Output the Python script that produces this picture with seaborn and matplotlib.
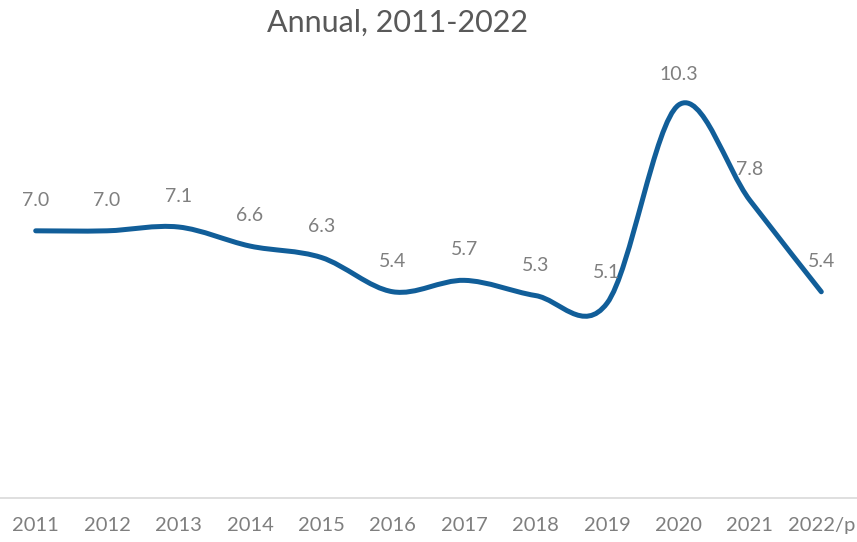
import numpy as np
import pandas as pd
import seaborn as sns
import matplotlib.pyplot as plt
from matplotlib.path import Path
from matplotlib.patches import PathPatch

# data
years = ['2011', '2012', '2013', '2014', '2015', '2016',
         '2017', '2018', '2019', '2020', '2021', '2022/p']
values = [7.0, 7.0, 7.1, 6.6, 6.3, 5.4, 5.7, 5.3, 5.1, 10.3, 7.8, 5.4]

df = pd.DataFrame({'year': years, 'value': values})

sns.set_theme(style='white')
plt.rcParams['font.family'] = ['Lato', 'DejaVu Sans']

LINE = '#115E99'
GREY = '#7F7F7F'

fig = plt.figure(figsize=(8.57, 5.42), dpi=100)
ax = fig.add_axes([0.0, 0.0821, 1.0, 0.8435])

# smoothed line like Excel's (Catmull-Rom as cubic Bezier segments)
x = np.arange(len(df))
y = df['value'].to_numpy()
xp = np.concatenate([[x[0]], x, [x[-1]]])
yp = np.concatenate([[y[0]], y, [y[-1]]])
verts = [(x[0], y[0])]
codes = [Path.MOVETO]
for i in range(len(x) - 1):
    j = i + 1
    c1 = (xp[j] + (xp[j + 1] - xp[j - 1]) / 6, yp[j] + (yp[j + 1] - yp[j - 1]) / 6)
    c2 = (xp[j + 1] - (xp[j + 2] - xp[j]) / 6, yp[j + 1] - (yp[j + 2] - yp[j]) / 6)
    verts += [c1, c2, (x[i + 1], y[i + 1])]
    codes += [Path.CURVE4] * 3
ax.add_patch(PathPatch(Path(verts, codes), facecolor='none', edgecolor=LINE,
                       lw=3.6, capstyle='round', joinstyle='round'))

for xi, (lab, v) in enumerate(zip(df['year'], df['value'])):
    ax.annotate(f'{v:.1f}', (xi, v), xytext=(0, 22), textcoords='offset points',
                ha='center', va='center', fontsize=14, color=GREY)

ax.set_xlim(-0.5, len(df) - 0.5)
ax.set_ylim(0, 12)
ax.set_xticks(x)
ax.set_xticklabels(df['year'], fontsize=14.5, color=GREY)
ax.set_yticks([])
ax.tick_params(axis='x', length=0, pad=14)
sns.despine(ax=ax, left=True, right=True, top=True)
ax.spines['bottom'].set_color('#D9D9D9')
ax.spines['bottom'].set_linewidth(1.2)
ax.set_xlabel('')
ax.set_ylabel('')

fig.text(0.464, 0.958, 'Annual, 2011-2022', ha='center', va='center',
         fontsize=22, color='#595959')

fig.savefig('out.png', dpi=100)
